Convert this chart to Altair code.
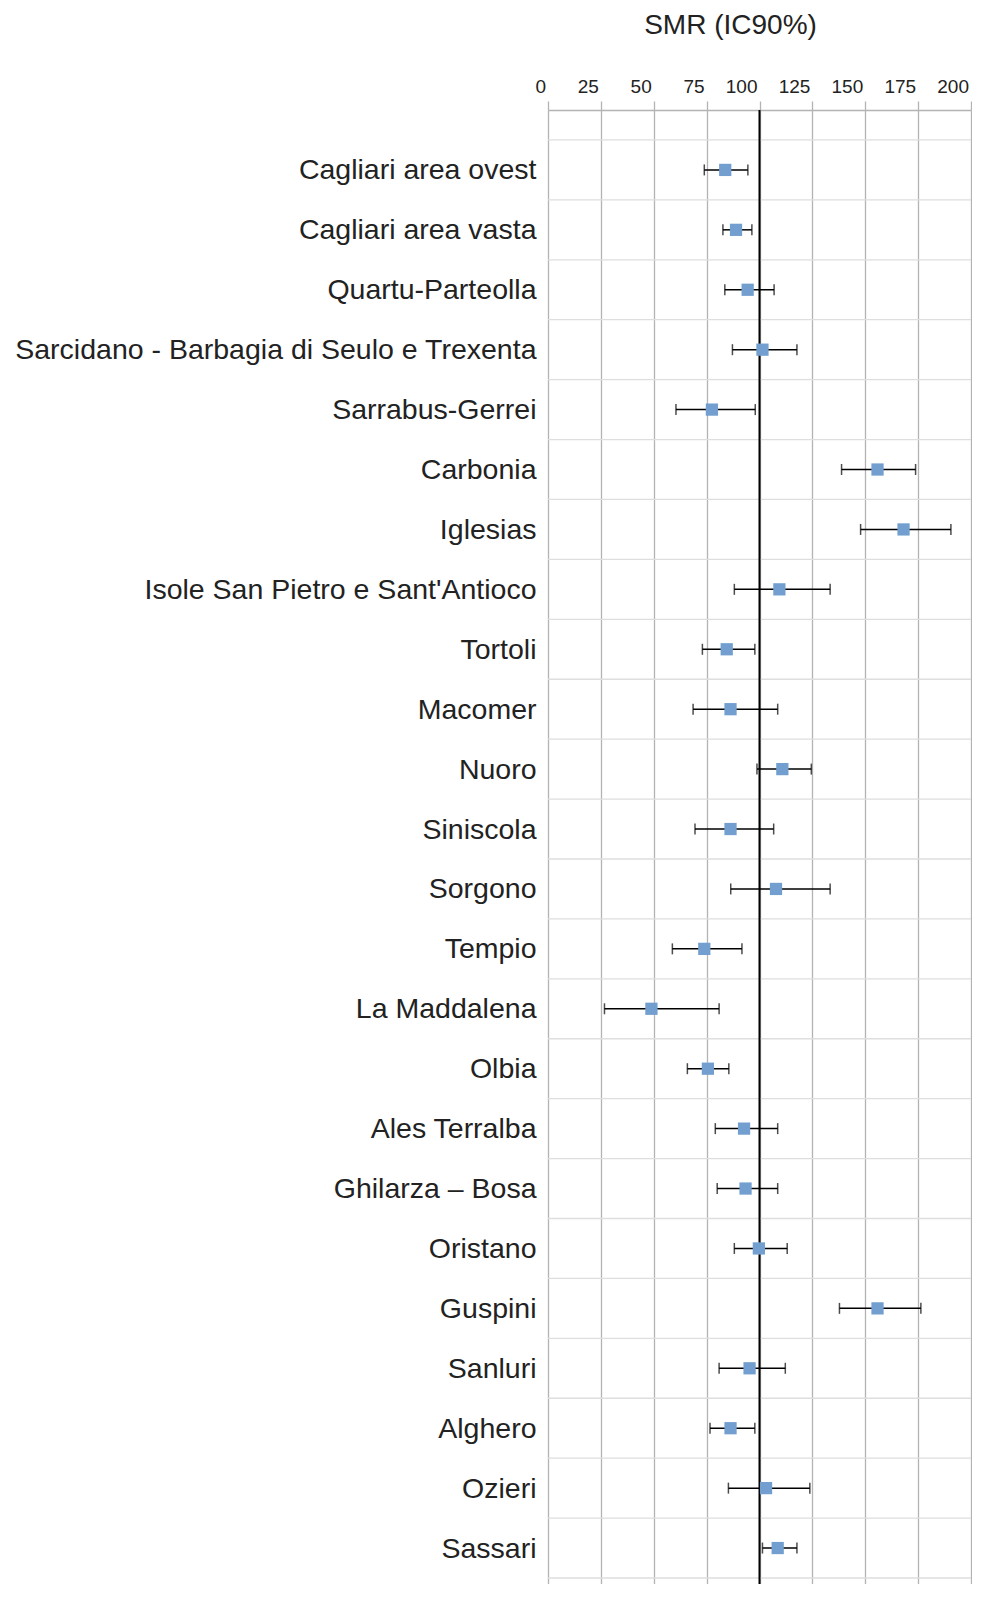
import json
import altair as alt
import pandas as pd

names = [
    "Cagliari area ovest", "Cagliari area vasta", "Quartu-Parteolla",
    "Sarcidano - Barbagia di Seulo e Trexenta", "Sarrabus-Gerrei", "Carbonia",
    "Iglesias", "Isole San Pietro e Sant'Antioco", "Tortoli", "Macomer",
    "Nuoro", "Siniscola", "Sorgono", "Tempio", "La Maddalena", "Olbia",
    "Ales Terralba", "Ghilarza \u2013 Bosa", "Oristano", "Guspini", "Sanluri",
    "Alghero", "Ozieri", "Sassari",
]
smr = [83.8, 88.9, 94.4, 101.4, 77.5, 155.8, 168.1, 109.4, 84.5, 86.3,
       110.8, 86.3, 107.8, 73.9, 48.9, 75.6, 92.7, 93.4, 99.7, 155.8,
       95.3, 86.3, 103.1, 108.6]
lo = [73.9, 82.7, 83.6, 87.2, 60.5, 138.8, 147.8, 88.1, 73.0, 68.6,
      98.8, 69.5, 86.4, 58.8, 26.7, 65.9, 79.1, 80.0, 88.1, 137.8,
      80.9, 76.6, 85.3, 101.4]
hi = [94.5, 96.4, 106.9, 117.7, 98.0, 173.8, 190.5, 133.4, 97.8, 108.6,
      124.5, 106.7, 133.4, 91.7, 80.9, 85.5, 108.6, 108.6, 113.1, 176.3,
      112.2, 97.8, 123.8, 117.7]
x_ticks = [0, 25, 50, 75, 100, 125, 150, 175, 200]
ref_value = 100

df = pd.DataFrame({"name": names, "smr": smr, "lo": lo, "hi": hi,
                   "row": list(range(1, len(names) + 1))})
edges = pd.DataFrame({"edge": [i + 0.5 for i in range(len(names) + 1)]})

FONT = "Liberation Sans"
TXT = "#222222"

x_scale = alt.Scale(domain=[0, 200], nice=False, zero=False)
y_scale = alt.Scale(domain=[0, 24.6], reverse=True, nice=False, zero=False)

x_axis = alt.Axis(
    orient="top", values=x_ticks, title=None, grid=True,
    gridColor="#b3b3b3", gridWidth=1.3, tickColor="#b3b3b3", tickSize=9,
    tickWidth=1.3, domainColor="#b3b3b3", domainWidth=1.3,
    labelFont=FONT, labelFontSize=19, labelColor=TXT, labelPadding=5,
    labelAlign="right", labelOffset=-2.5, labelFlush=False, labelOverlap=False,
)
label_expr = json.dumps(names) + "[datum.value - 1]"
y_axis = alt.Axis(
    values=list(range(1, len(names) + 1)), labelExpr=label_expr, title=None,
    grid=False, ticks=False, tickSize=0, domain=False,
    labelFont=FONT, labelFontSize=28.5, labelColor=TXT, labelPadding=12,
    labelLimit=700, labelOverlap=False, labelFlush=False,
)


def X(field):
    return alt.X(field, type="quantitative", scale=x_scale, axis=x_axis)


def Y(field):
    return alt.Y(field, type="quantitative", scale=y_scale, axis=y_axis)


base = alt.Chart(df)

seps = alt.Chart(edges).mark_rule(color="#dedede", strokeWidth=1.3).encode(
    y=Y("edge")
)
bars = base.mark_rule(color="black", strokeWidth=1.5).encode(
    x=X("lo"), x2="hi:Q", y=Y("row"),
)
ref = alt.Chart(pd.DataFrame({"v": [ref_value]})).mark_rule(
    color="black", strokeWidth=2
).encode(x=X("v"))
cap_lo = base.mark_tick(orient="vertical", size=11, thickness=1.5, color="black").encode(
    x=X("lo"), y=Y("row"),
)
cap_hi = base.mark_tick(orient="vertical", size=11, thickness=1.5, color="black").encode(
    x=X("hi"), y=Y("row"),
)
pts = base.mark_square(size=150, color="#729fcf", opacity=1, filled=True).encode(
    x=X("smr"), y=Y("row"),
)

chart = alt.layer(seps, bars, ref, cap_lo, cap_hi, pts).properties(
    width=423,
    height=1474,
    background="white",
    title=alt.TitleParams(
        "SMR (IC90%)", font=FONT, fontSize=28, fontWeight="normal",
        color=TXT, frame="group", anchor="middle", dx=-29, offset=37,
    ),
    autosize=alt.AutoSizeParams(type="none"),
    padding={"left": 540, "top": 102, "right": 1, "bottom": 0},
).configure_view(stroke=None)

chart.save("out.html", embed_options={"renderer": "svg", "actions": False})
